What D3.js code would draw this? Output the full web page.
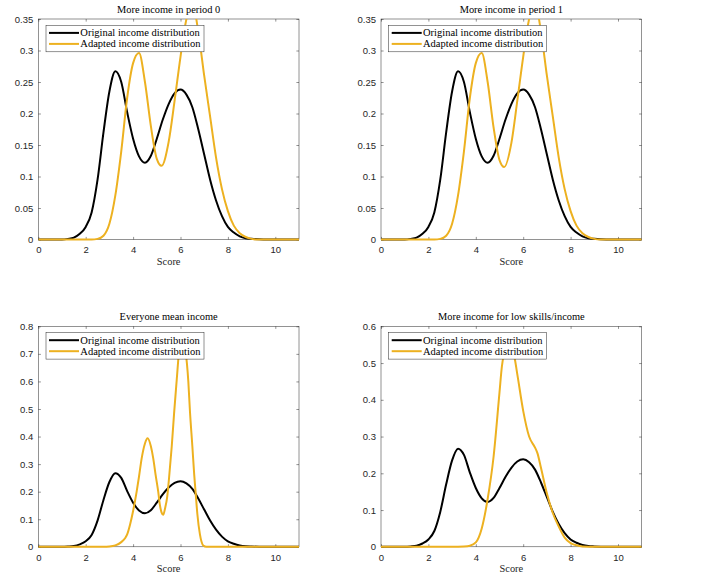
<!DOCTYPE html>
<html><head><meta charset="utf-8">
<script src="https://cdn.jsdelivr.net/npm/d3@7"></script>
<style>body{margin:0;background:#fff;} svg{display:block}</style>
</head><body>
<script>
// ---------- data ----------
const panelTitles = ["More income in period 0", "More income in period 1", "Everyone mean income", "More income for low skills/income"];
const seriesNames = ["Original income distribution", "Adapted income distribution"];
const xLabel = "Score";
const xTicks = [0, 2, 4, 6, 8, 10];
const yTicksTop = [0, 0.05, 0.1, 0.15, 0.2, 0.25, 0.3, 0.35];
const yTicksMean = [0, 0.1, 0.2, 0.3, 0.4, 0.5, 0.6, 0.7, 0.8];
const yTicksLow = [0, 0.1, 0.2, 0.3, 0.4, 0.5, 0.6];
const yMaxes = [0.35, 0.35, 0.8, 0.6];

const originalX = [0, 1, 1.25, 1.5, 1.75, 2, 2.25, 2.5, 2.75, 3, 3.25, 3.5, 3.75, 4, 4.25, 4.5, 4.75, 5, 5.25, 5.5, 5.75, 6, 6.25, 6.5, 6.75, 7, 7.25, 7.5, 7.75, 8, 8.25, 8.5, 8.75, 9, 9.5, 11];
const originalY = [0, 0, 0.001, 0.003, 0.009, 0.02, 0.043, 0.095, 0.17, 0.235, 0.267, 0.25, 0.202, 0.16, 0.132, 0.122, 0.133, 0.16, 0.19, 0.215, 0.232, 0.238, 0.23, 0.21, 0.175, 0.135, 0.095, 0.062, 0.037, 0.02, 0.011, 0.005, 0.002, 0.001, 0, 0];

const adaptedP0X = [0, 2.25, 2.5, 2.75, 3, 3.25, 3.5, 3.75, 4, 4.25, 4.5, 4.75, 5, 5.2, 5.5, 5.75, 6, 6.25, 6.5, 6.75, 7, 7.25, 7.5, 7.75, 8, 8.25, 8.5, 8.75, 9, 9.25, 11];
const adaptedP0Y = [0, 0, 0.001, 0.006, 0.025, 0.07, 0.14, 0.225, 0.28, 0.296, 0.25, 0.18, 0.128, 0.117, 0.155, 0.22, 0.29, 0.35, 0.375, 0.33, 0.26, 0.195, 0.13, 0.08, 0.045, 0.022, 0.01, 0.004, 0.001, 0, 0];

const adaptedP1X = [0, 2.25, 2.5, 2.75, 3, 3.25, 3.5, 3.75, 4, 4.25, 4.5, 4.75, 5, 5.2, 5.5, 5.75, 6, 6.25, 6.5, 6.75, 7, 7.25, 7.5, 7.75, 8, 8.25, 8.5, 8.75, 9, 9.25, 11];
const adaptedP1Y = [0, 0, 0.001, 0.006, 0.025, 0.07, 0.14, 0.225, 0.28, 0.296, 0.25, 0.178, 0.126, 0.115, 0.153, 0.22, 0.29, 0.35, 0.375, 0.33, 0.26, 0.195, 0.13, 0.08, 0.045, 0.022, 0.01, 0.004, 0.001, 0, 0];

const adaptedMeanX = [0, 2.75, 3, 3.25, 3.5, 3.66, 3.75, 3.87, 4, 4.15, 4.25, 4.36, 4.5, 4.61, 4.75, 4.85, 4.95, 5.06, 5.13, 5.2, 5.27, 5.35, 5.44, 5.51, 5.63, 5.73, 5.84, 5.95, 6.07, 6.2, 6.33, 6.4, 6.5, 6.58, 6.64, 6.71, 6.82, 6.96, 7.1, 11];
const adaptedMeanY = [0, 0, 0.001, 0.005, 0.017, 0.031, 0.045, 0.08, 0.13, 0.2, 0.255, 0.32, 0.375, 0.394, 0.365, 0.321, 0.261, 0.2, 0.152, 0.125, 0.116, 0.14, 0.182, 0.243, 0.364, 0.485, 0.605, 0.72, 0.77, 0.72, 0.6, 0.49, 0.365, 0.26, 0.195, 0.12, 0.045, 0.005, 0, 0];

const adaptedLowX = [0, 3, 3.5, 3.75, 4, 4.25, 4.5, 4.75, 5, 5.1, 5.25, 5.4, 5.6, 5.75, 6, 6.25, 6.5, 6.6, 6.75, 7, 7.25, 7.5, 7.75, 8, 8.25, 8.5, 9, 11];
const adaptedLowY = [0, 0, 0.001, 0.003, 0.012, 0.05, 0.13, 0.245, 0.42, 0.49, 0.535, 0.545, 0.525, 0.47, 0.37, 0.3, 0.27, 0.255, 0.215, 0.145, 0.092, 0.055, 0.025, 0.01, 0.004, 0.001, 0, 0];

// ---------- drawing ----------
const W = 707, H = 588;
const svg = d3.select("body").append("svg").attr("width", W).attr("height", H);

const panels = [
  {title: panelTitles[0], ymax: yMaxes[0], yTicks: yTicksTop, ax: adaptedP0X, ay: adaptedP0Y, left: 38.3, top: 19},
  {title: panelTitles[1], ymax: yMaxes[1], yTicks: yTicksTop, ax: adaptedP1X, ay: adaptedP1Y, left: 381, top: 19},
  {title: panelTitles[2], ymax: yMaxes[2], yTicks: yTicksMean, ax: adaptedMeanX, ay: adaptedMeanY, left: 38.3, top: 326.3},
  {title: panelTitles[3], ymax: yMaxes[3], yTicks: yTicksLow, ax: adaptedLowX, ay: adaptedLowY, left: 381, top: 326.3}
];
const pw = 260.7, ph = 220.5;
const axisColor = "#262626";
const serif = "'Liberation Serif', 'Times New Roman', serif";
const sans = "'Liberation Sans', Arial, sans-serif";
const fmt = d => d === 0 ? "0" : String(+d.toFixed(2));

panels.forEach((p, i) => {
  const g = svg.append("g").attr("transform", `translate(${p.left},${p.top})`);
  const x = d3.scaleLinear().domain([0, 11]).range([0, pw]);
  const y = d3.scaleLinear().domain([0, p.ymax]).range([ph, 0]);

  g.append("rect").attr("width", pw).attr("height", ph).attr("fill", "#fff");

  const tl = 2.6;
  const styleAxis = sel => {
    sel.select(".domain").remove();
    sel.selectAll("line").attr("stroke", axisColor).attr("stroke-width", 0.5);
    sel.selectAll("text").attr("fill", axisColor).attr("font-family", sans).attr("font-size", "9.5px");
  };
  g.append("g").attr("transform", `translate(0,${ph})`)
    .call(d3.axisBottom(x).tickValues(xTicks).tickSize(-tl).tickPadding(7).tickFormat(d3.format("d")))
    .call(styleAxis);
  g.append("g")
    .call(d3.axisTop(x).tickValues(xTicks).tickSize(-tl).tickFormat(""))
    .call(styleAxis);
  g.append("g")
    .call(d3.axisLeft(y).tickValues(p.yTicks).tickSize(-tl).tickPadding(5).tickFormat(fmt))
    .call(styleAxis);
  g.append("g").attr("transform", `translate(${pw},0)`)
    .call(d3.axisRight(y).tickValues(p.yTicks).tickSize(-tl).tickFormat(""))
    .call(styleAxis);
  g.append("rect").attr("width", pw).attr("height", ph)
    .attr("fill", "none").attr("stroke", axisColor).attr("stroke-width", 0.5);

  const cid = "clip" + i;
  g.append("clipPath").attr("id", cid).append("rect")
    .attr("x", 0).attr("y", 0).attr("width", pw).attr("height", ph + 3);

  const line = d3.line().x(d => x(d[0])).y(d => y(d[1])).curve(d3.curveMonotoneX);
  const orig = originalX.map((v, k) => [v, originalY[k]]);
  const adap = p.ax.map((v, k) => [v, p.ay[k]]);
  const lg = g.append("g").attr("clip-path", `url(#${cid})`);
  lg.append("path").datum(orig).attr("d", line).attr("fill", "none")
    .attr("stroke", "#000").attr("stroke-width", 2).attr("stroke-linejoin", "round");
  lg.append("path").datum(adap).attr("d", line).attr("fill", "none")
    .attr("stroke", "#EDB120").attr("stroke-width", 2).attr("stroke-linejoin", "round");

  g.append("text").attr("x", pw / 2).attr("y", -6.3).attr("text-anchor", "middle")
    .attr("font-family", serif).attr("font-size", "10.4px").attr("fill", "#000").text(p.title);
  g.append("text").attr("x", pw / 2).attr("y", ph + 25.5).attr("text-anchor", "middle")
    .attr("font-family", serif).attr("font-size", "10.4px").attr("fill", axisColor).text(xLabel);

  const leg = g.append("g").attr("transform", "translate(7.7,6.3)");
  leg.append("rect").attr("width", 158).attr("height", 26.5)
    .attr("fill", "#fff").attr("stroke", axisColor).attr("stroke-width", 0.5);
  const colors = ["#000", "#EDB120"];
  seriesNames.forEach((name, k) => {
    const yy = 7.6 + k * 11;
    leg.append("line").attr("x1", 3).attr("x2", 33).attr("y1", yy).attr("y2", yy)
      .attr("stroke", colors[k]).attr("stroke-width", 2);
    leg.append("text").attr("x", 34.3).attr("y", yy).attr("dy", "0.33em")
      .attr("font-family", serif).attr("font-size", "10.5px").attr("fill", "#000").text(name);
  });
});
</script>
</body></html>
